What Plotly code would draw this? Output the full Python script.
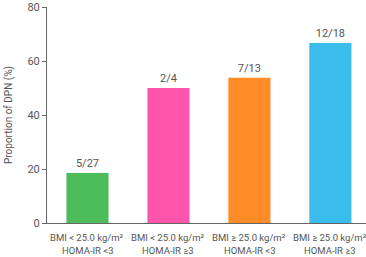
import plotly.graph_objects as go

label_line1 = ["BMI < 25.0 kg/m²", "BMI < 25.0 kg/m²", "BMI ≥ 25.0 kg/m²", "BMI ≥ 25.0 kg/m²"]
label_line2 = ["HOMA-IR <3", "HOMA-IR ≥3", "HOMA-IR <3", "HOMA-IR ≥3"]
values = [18.5, 50.0, 53.8, 66.7]
bar_labels = ["5/27", "2/4", "7/13", "12/18"]
colors = ["#4DBD5B", "#FF55AA", "#FF8C26", "#3ABDEA"]
y_ticks = [0, 20, 40, 60, 80]

FONT = "Roboto, sans-serif"
GRAY = "#555555"
xs = list(range(len(values)))

fig = go.Figure(go.Bar(
    x=xs,
    y=values,
    marker=dict(color=colors, line=dict(width=0)),
    width=0.52,
    text=bar_labels,
    textposition="outside",
    textfont=dict(family=FONT, size=11, color=GRAY),
    cliponaxis=False,
))

for i, (l1, l2) in enumerate(zip(label_line1, label_line2)):
    fig.add_annotation(x=xs[i], xref="x", y=0, yref="paper", yshift=-14,
                       text=l1, showarrow=False, yanchor="middle",
                       font=dict(family=FONT, size=9.5, color=GRAY))
    fig.add_annotation(x=xs[i], xref="x", y=0, yref="paper", yshift=-27,
                       text=l2, showarrow=False, yanchor="middle",
                       font=dict(family=FONT, size=9.5, color=GRAY))

fig.update_layout(
    width=366, height=257,
    margin=dict(l=47, r=0, t=7, b=34),
    plot_bgcolor="white", paper_bgcolor="white",
    showlegend=False,
    font=dict(family=FONT, color=GRAY, size=11),
)
fig.update_xaxes(
    range=[-0.5, 3.44],
    showticklabels=False, automargin=False,
    showline=True, linecolor="#666666", linewidth=1,
    ticks="", showgrid=False, zeroline=False,
)
fig.update_yaxes(
    range=[0, 80], automargin=False,
    tickmode="array", tickvals=y_ticks,
    showline=True, linecolor="#666666", linewidth=1,
    ticks="outside", ticklen=4, tickcolor="#666666",
    showgrid=False, zeroline=False,
    tickfont=dict(family=FONT, size=11, color=GRAY),
    title=dict(text="Proportion of DPN (%)", font=dict(family=FONT, size=10, color=GRAY), standoff=12),
)

fig.write_html("out.html")
